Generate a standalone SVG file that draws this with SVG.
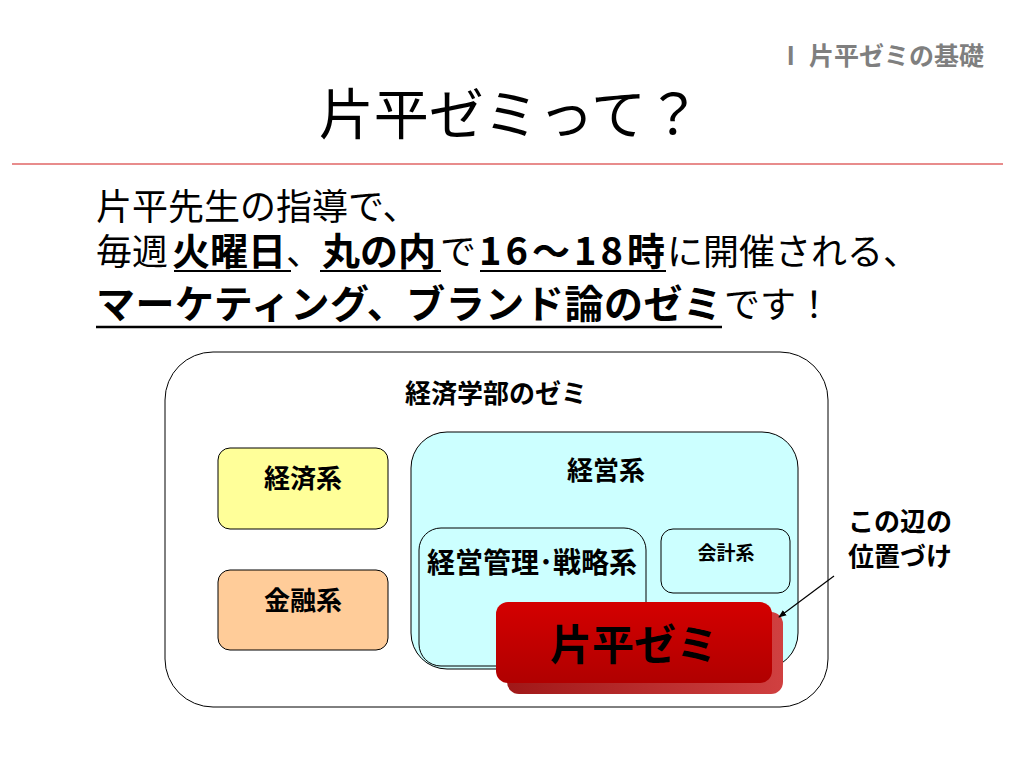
<svg xmlns="http://www.w3.org/2000/svg" width="1024" height="768" viewBox="0 0 1024 768">
<defs>
<style>
text{font-family:"Noto Sans CJK JP","Liberation Sans",sans-serif;fill:#000}
.b{font-weight:bold}
.lbl{font-weight:bold;font-size:26px;text-anchor:middle}
.box{stroke:#000;stroke-width:1}
.ul{stroke:#000;stroke-width:2}
</style>
<linearGradient id="red" x1="0" y1="0" x2="0" y2="1">
<stop offset="0" stop-color="#d40000"/>
<stop offset="1" stop-color="#b00000"/>
</linearGradient>
<linearGradient id="redside" x1="0" y1="0" x2="1" y2="0">
<stop offset="0" stop-color="#a01818"/>
<stop offset="1" stop-color="#d04040"/>
</linearGradient>
<marker id="ah" viewBox="0 0 10 10" refX="9" refY="5" markerWidth="8" markerHeight="8" orient="auto" markerUnits="userSpaceOnUse">
<path d="M0,1 L10,5 L0,9 z" fill="#000"/>
</marker>
</defs>
<rect width="1024" height="768" fill="#fff"/>
<g id="header">
<text x="984" y="65" text-anchor="end" class="b" style="font-size:25px;fill:#7f7f7f">Ⅰ 片平ゼミの基礎</text>
<text x="510" y="134" text-anchor="middle" style="font-size:55px">片平ゼミって？</text>
<line x1="12" y1="164" x2="1003" y2="164" stroke="#e06666" stroke-width="1.5"/>
</g>
<g id="body">
<text x="96" y="220" style="font-size:36px">片平先生の指導で、</text>
<text y="265" style="font-size:36px"><tspan x="96">毎週</tspan><tspan x="172" class="b" style="font-size:38px">火曜日</tspan><tspan x="286">、</tspan><tspan x="322" class="b" style="font-size:38px">丸の内</tspan><tspan x="440">で</tspan><tspan x="479" class="b" style="font-size:38px" textLength="186" lengthAdjust="spacing">16～18時</tspan><tspan x="667">に開催される、</tspan></text>
<line class="ul" x1="174" y1="271" x2="291" y2="271"/>
<line class="ul" x1="320" y1="271" x2="441" y2="271"/>
<line class="ul" x1="480" y1="271" x2="666" y2="271"/>
<text y="318"><tspan x="96" class="b" style="font-size:39px" textLength="626" lengthAdjust="spacing">マーケティング、ブランド論のゼミ</tspan><tspan x="724" style="font-size:36px">です！</tspan></text>
<line x1="96" y1="327" x2="722" y2="327" stroke="#000" stroke-width="2.5"/>
</g>
<g id="faculty">
<rect class="box" x="165" y="352" width="663" height="355" rx="48" fill="#fff"/>
<text x="496" y="403" class="lbl">経済学部のゼミ</text>
</g>
<g id="keizai">
<rect class="box" x="218" y="448" width="170" height="81" rx="12" fill="#ffff99"/>
<text x="303" y="488" class="lbl">経済系</text>
</g>
<g id="kinyu">
<rect class="box" x="218" y="570" width="170" height="80" rx="12" fill="#ffcc99"/>
<text x="303" y="610" class="lbl">金融系</text>
</g>
<g id="keiei">
<rect class="box" x="411" y="432" width="387" height="237" rx="36" fill="#ccffff"/>
<text x="606" y="480" class="lbl">経営系</text>
</g>
<g id="kanri">
<rect class="box" x="419" y="528" width="227" height="138" rx="22" fill="#ccffff"/>
<text x="532" y="573" class="lbl" style="font-size:28px">経営管理･戦略系</text>
</g>
<g id="kaikei">
<rect class="box" x="661" y="529" width="129" height="64" rx="12" fill="#ccffff"/>
<text x="726" y="560" class="lbl" style="font-size:19px">会計系</text>
</g>
<g id="katahira">
<rect x="507" y="612" width="276" height="82" rx="12" fill="url(#redside)"/>
<rect x="496" y="602" width="276" height="81" rx="12" fill="url(#red)"/>
<text x="634" y="660" class="lbl" style="font-size:42px">片平ゼミ</text>
</g>
<g id="note">
<text x="848" y="531" class="b" style="font-size:26px">この辺の</text>
<text x="848" y="566" class="b" style="font-size:26px">位置づけ</text>
</g>
<g id="connectors">
<line x1="834" y1="576" x2="779" y2="617" stroke="#000" stroke-width="1.2" marker-end="url(#ah)"/>
</g>
</svg>
